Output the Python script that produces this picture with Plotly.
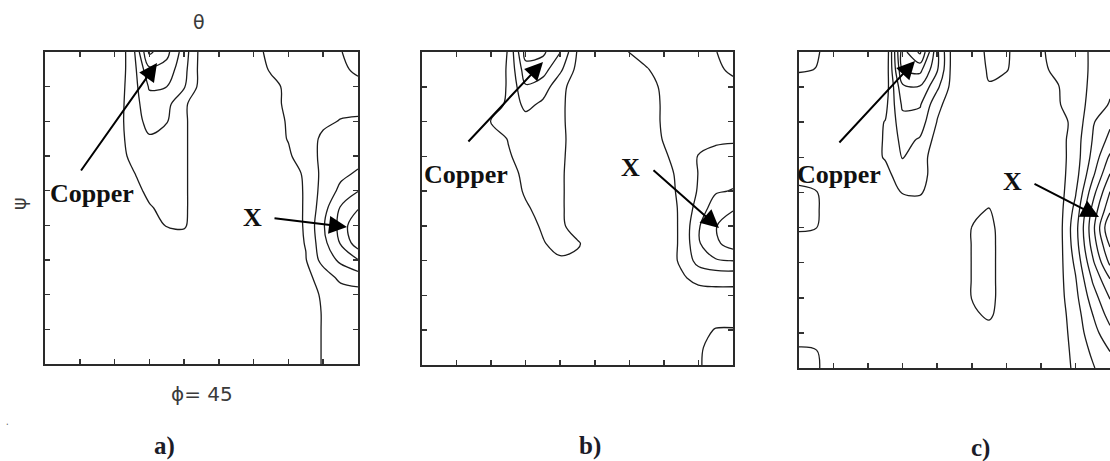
import plotly.graph_objects as go

# ODF section grid (degrees)
theta_deg = [0, 5, 10, 15, 20, 25, 30, 35, 40, 45, 50, 55, 60, 65, 70, 75, 80, 85, 90]
psi_deg = [0, 5, 10, 15, 20, 25, 30, 35, 40, 45, 50, 55, 60, 65, 70, 75, 80, 85, 90]

# contour levels
level_start = 1
level_end = 9
level_step = 1

# panel a) intensities, rows = psi, cols = theta
odf_a = [
    [0.5,0.5,0.5,0.45,0.3,1.4,5.2,4.3,2.5,0.6,0.5,0.55,0.75,1.2,1.3,1.5,1.7,1.95,2.5],
    [0.5,0.5,0.5,0.45,0.3,1.4,3.8,3.6,2.3,0.6,0.5,0.5,0.55,1.1,1.3,1.5,1.6,1.8,2.2],
    [0.5,0.5,0.5,0.45,0.35,1.45,3.1,3.0,2.1,0.6,0.5,0.5,0.5,0.75,1.2,1.4,1.5,1.6,1.7],
    [0.5,0.5,0.5,0.45,0.4,1.5,2.6,2.3,1.15,0.4,0.45,0.5,0.5,0.7,1.2,1.5,1.6,1.7,1.75],
    [0.5,0.5,0.5,0.45,0.45,1.5,2.3,2.05,1.15,0.4,0.45,0.5,0.5,0.6,1.1,1.4,1.8,2.05,2.1],
    [0.5,0.5,0.5,0.45,0.45,1.4,1.9,1.7,1.15,0.4,0.45,0.5,0.5,0.6,1.05,1.5,2.2,2.4,2.5],
    [0.5,0.5,0.5,0.45,0.5,1.2,1.6,1.5,1.15,0.4,0.45,0.5,0.5,0.55,0.85,1.6,2.2,2.5,2.7],
    [0.5,0.5,0.5,0.45,0.4,0.9,1.5,1.4,1.15,0.4,0.45,0.5,0.5,0.55,0.6,1.15,2.3,2.8,3.1],
    [0.5,0.5,0.5,0.45,0.4,0.6,1.25,1.35,1.15,0.4,0.45,0.5,0.5,0.55,0.55,1.1,2.4,3.2,3.95],
    [0.5,0.5,0.5,0.45,0.4,0.5,0.9,1.3,1.15,0.4,0.45,0.5,0.5,0.55,0.55,1.1,2.6,4.1,4.9],
    [0.5,0.5,0.5,0.45,0.4,0.5,0.6,1.05,1.1,0.4,0.45,0.5,0.5,0.55,0.55,1.1,2.9,4.3,6.0],
    [0.5,0.5,0.5,0.45,0.4,0.5,0.5,0.6,0.6,0.45,0.45,0.5,0.5,0.55,0.55,1.05,2.7,4.1,5.6],
    [0.5,0.5,0.5,0.45,0.45,0.5,0.5,0.5,0.5,0.45,0.45,0.5,0.5,0.55,0.6,0.95,2.4,3.2,3.95],
    [0.5,0.5,0.5,0.45,0.45,0.5,0.5,0.5,0.5,0.45,0.45,0.5,0.5,0.55,0.6,0.75,1.4,2.3,2.5],
    [0.5,0.5,0.5,0.45,0.45,0.5,0.5,0.5,0.5,0.45,0.45,0.5,0.5,0.55,0.6,0.7,1.1,1.4,1.6],
    [0.5,0.5,0.5,0.45,0.45,0.5,0.5,0.5,0.5,0.45,0.45,0.5,0.5,0.55,0.6,0.65,1.05,1.3,1.4],
    [0.5,0.5,0.5,0.45,0.45,0.5,0.5,0.5,0.5,0.45,0.45,0.5,0.5,0.55,0.6,0.65,1.05,1.3,1.4],
    [0.5,0.5,0.5,0.45,0.45,0.5,0.5,0.5,0.5,0.45,0.45,0.5,0.5,0.55,0.6,0.65,1.05,1.3,1.4],
    [0.5,0.5,0.5,0.45,0.45,0.5,0.5,0.5,0.5,0.45,0.45,0.5,0.5,0.55,0.6,0.65,1.05,1.3,1.4],
]

# panel b)
odf_b = [
    [0.5,0.5,0.5,0.45,0.4,1.05,4.4,4.2,3.05,0.9,0.55,0.6,1.02,1.3,1.4,1.5,1.7,1.97,2.4],
    [0.5,0.5,0.5,0.45,0.4,1.1,3.6,3.4,2.2,0.7,0.5,0.55,0.6,0.95,1.3,1.45,1.6,1.8,2.2],
    [0.5,0.5,0.5,0.45,0.4,1.1,2.9,2.5,1.3,0.5,0.5,0.5,0.55,0.7,1.15,1.35,1.45,1.55,1.7],
    [0.5,0.5,0.5,0.4,0.45,1.2,2.3,1.8,1.2,0.5,0.5,0.5,0.55,0.65,1.1,1.3,1.4,1.5,1.6],
    [0.5,0.5,0.5,0.4,1.02,1.3,1.6,1.5,1.2,0.5,0.5,0.5,0.55,0.65,1.1,1.3,1.5,1.6,1.75],
    [0.5,0.5,0.5,0.4,0.5,1.05,1.5,1.4,1.25,0.5,0.5,0.5,0.55,0.6,1.05,1.35,1.7,1.85,1.9],
    [0.5,0.5,0.5,0.4,0.45,0.9,1.4,1.35,1.2,0.5,0.5,0.5,0.55,0.6,0.9,1.3,2.05,2.25,2.3],
    [0.5,0.5,0.5,0.4,0.45,0.7,1.2,1.3,1.15,0.5,0.5,0.5,0.55,0.6,0.8,1.15,2.03,2.5,2.7],
    [0.5,0.5,0.5,0.4,0.45,0.6,1.1,1.3,1.15,0.5,0.5,0.5,0.55,0.6,0.7,1.15,2.1,2.9,3.05],
    [0.5,0.5,0.5,0.4,0.45,0.5,0.9,1.25,1.15,0.5,0.5,0.5,0.55,0.6,0.65,1.1,2.45,3.5,3.9],
    [0.5,0.5,0.5,0.4,0.45,0.5,0.7,1.1,1.2,0.55,0.5,0.5,0.55,0.6,0.62,1.1,2.9,3.95,4.6],
    [0.5,0.5,0.5,0.4,0.45,0.5,0.5,0.95,1.25,1.1,0.5,0.5,0.55,0.6,0.62,1.1,2.9,3.8,4.5],
    [0.5,0.5,0.5,0.4,0.45,0.5,0.5,0.6,0.9,0.8,0.5,0.5,0.55,0.6,0.65,1.1,2.4,2.9,3.02],
    [0.5,0.5,0.5,0.4,0.45,0.5,0.5,0.5,0.5,0.5,0.5,0.5,0.55,0.6,0.6,0.9,1.2,1.3,1.3],
    [0.5,0.5,0.5,0.4,0.45,0.5,0.5,0.5,0.5,0.5,0.5,0.5,0.55,0.6,0.6,0.65,0.7,0.7,0.7],
    [0.5,0.5,0.5,0.4,0.45,0.5,0.5,0.5,0.5,0.5,0.5,0.5,0.55,0.6,0.6,0.6,0.75,0.85,0.88],
    [0.5,0.5,0.5,0.4,0.45,0.5,0.5,0.5,0.5,0.5,0.5,0.5,0.55,0.6,0.6,0.55,0.9,1.02,1.02],
    [0.5,0.5,0.5,0.4,0.45,0.5,0.5,0.5,0.5,0.5,0.5,0.5,0.55,0.6,0.6,0.55,0.92,1.2,1.25],
    [0.5,0.5,0.5,0.4,0.45,0.5,0.5,0.5,0.5,0.5,0.5,0.5,0.55,0.6,0.6,0.55,0.95,1.2,1.25],
]

# panel c)
odf_c = [
    [1.3,1.1,0.6,0.5,0.3,0.0,5.6,7.2,3.2,0.3,0.5,1.2,1.1,0.6,0.9,1.3,1.6,2.15,2.3],
    [1.1,0.98,0.5,0.45,0.3,0.2,5.0,5.3,3.1,0.3,0.5,1.1,1.05,0.6,0.8,1.25,1.6,2.15,2.5],
    [0.5,0.5,0.5,0.45,0.3,0.4,3.8,3.9,2.2,0.4,0.5,0.95,0.7,0.55,0.6,0.95,1.6,2.2,2.8],
    [0.5,0.5,0.5,0.45,0.4,0.7,3.2,3.1,1.25,0.4,0.5,0.55,0.5,0.5,0.55,0.9,1.6,2.3,3.1],
    [0.5,0.5,0.5,0.45,0.5,1.05,2.6,2.5,0.95,0.4,0.5,0.5,0.5,0.5,0.55,0.6,1.3,2.9,3.8],
    [0.5,0.5,0.5,0.45,0.5,1.1,2.3,1.9,0.6,0.4,0.5,0.5,0.5,0.5,0.55,0.55,1.5,3.05,4.3],
    [0.5,0.5,0.5,0.45,0.5,1.1,2.05,1.4,0.5,0.4,0.5,0.5,0.5,0.5,0.55,0.55,1.5,3.3,5.2],
    [0.7,0.5,0.5,0.45,0.45,0.6,1.7,1.4,0.5,0.4,0.5,0.5,0.5,0.5,0.55,0.55,1.6,3.8,6.05],
    [1.2,1.05,0.5,0.45,0.45,0.5,1.05,1.1,0.5,0.4,0.5,0.6,0.5,0.5,0.5,0.5,1.9,4.6,7.05],
    [1.3,1.1,0.5,0.45,0.45,0.5,0.5,0.5,0.5,0.45,0.8,1.05,0.5,0.5,0.5,0.5,2.3,5.3,7.8],
    [1.15,1.02,0.5,0.45,0.45,0.5,0.5,0.5,0.5,0.45,1.01,1.25,0.5,0.5,0.5,0.5,2.6,5.67,9.0],
    [0.5,0.5,0.5,0.45,0.45,0.5,0.5,0.5,0.5,0.45,1.02,1.3,0.5,0.5,0.5,0.5,2.5,5.4,8.1],
    [0.5,0.5,0.5,0.45,0.45,0.5,0.5,0.5,0.5,0.45,1.02,1.3,0.5,0.5,0.5,0.55,2.2,4.8,7.2],
    [0.5,0.5,0.5,0.45,0.45,0.5,0.5,0.5,0.5,0.45,1.02,1.3,0.5,0.5,0.5,0.6,1.9,4.1,5.9],
    [0.5,0.5,0.5,0.45,0.45,0.5,0.5,0.5,0.5,0.45,1.02,1.3,0.5,0.5,0.5,0.6,1.7,3.5,5.05],
    [0.5,0.5,0.5,0.45,0.45,0.5,0.5,0.5,0.5,0.45,0.8,1.15,0.5,0.5,0.5,0.55,1.5,2.98,4.4],
    [0.6,0.5,0.5,0.45,0.45,0.5,0.5,0.5,0.5,0.45,0.5,0.6,0.5,0.5,0.5,0.5,1.4,2.6,3.7],
    [1.1,1.02,0.5,0.45,0.45,0.5,0.5,0.5,0.5,0.45,0.5,0.5,0.5,0.5,0.5,0.45,1.3,2.2,3.02],
    [1.2,1.1,0.6,0.45,0.45,0.5,0.5,0.5,0.5,0.45,0.5,0.5,0.5,0.5,0.5,0.45,1.2,1.9,2.7],
]

panel_letters = ["a)", "b)", "c)"]
peak_labels = ["Copper", "X"]
section_label = "\u03d5= 45"
top_axis_label = "\u03b8"
left_axis_label = "\u03c8"
tick_values = [10, 20, 30, 40, 50, 60, 70, 80]

W, H = 1110, 461

def px(x):
    return x / W

def py(y):
    return 1 - y / H

fig = go.Figure()

panels = [
    (odf_a, "x", "y"),
    (odf_b, "x2", "y2"),
    (odf_c, "x3", "y3"),
]
for z, xa, ya in panels:
    fig.add_trace(go.Contour(
        x=theta_deg, y=psi_deg, z=z,
        xaxis=xa, yaxis=ya,
        contours=dict(coloring="none", start=level_start, end=level_end, size=level_step),
        line=dict(color="#1c1c1c", width=1.3, smoothing=1.0),
        showscale=False, hoverinfo="skip",
    ))

frame = dict(showgrid=False, zeroline=False, showticklabels=False,
             ticks="inside", ticklen=5, tickwidth=1.5, tickcolor="#333",
             tickvals=tick_values, showline=True, linewidth=2,
             linecolor="#2a2a2a", fixedrange=True)

dom = {
    "a": ([45, 358], [52, 364]),
    "b": ([422, 733], [52, 365]),
    "c": ([799, 1110], [52, 368]),
}

def xd(p):
    return [px(dom[p][0][0]), min(1.0, px(dom[p][0][1]))]

def yd(p):
    return [py(dom[p][1][1]), py(dom[p][1][0])]

fig.update_layout(
    xaxis=dict(frame, domain=xd("a"), range=[0, 90], mirror="ticks", anchor="y"),
    yaxis=dict(frame, domain=yd("a"), range=[90, 0], mirror="ticks", anchor="x"),
    xaxis2=dict(frame, domain=xd("b"), range=[0, 90], mirror="ticks", anchor="y2"),
    yaxis2=dict(frame, domain=yd("b"), range=[90, 0], mirror="ticks", anchor="x2"),
    xaxis3=dict(frame, domain=xd("c"), range=[0, 90], mirror="ticks", anchor="y3"),
    yaxis3=dict(frame, domain=yd("c"), range=[90, 0], mirror=False, anchor="x3"),
)

ann = []
sans = dict(family="DejaVu Sans", size=19, color="#3a3a3a")
serif_b = dict(family="Liberation Serif", size=26, color="#111")
ann.append(dict(x=px(199), y=py(22), text=top_axis_label, font=sans))
ann.append(dict(x=px(19), y=py(204), text=left_axis_label, font=sans, textangle=-90))
ann.append(dict(x=px(202), y=py(394), text=section_label,
                font=dict(family="DejaVu Sans", size=20, color="#3a3a3a")))
ann.append(dict(x=px(7), y=py(421), text=".", font=dict(size=10, color="#666")))

for letter, (lx, ly) in zip(panel_letters, [(164, 446), (590, 446), (980, 448)]):
    ann.append(dict(x=px(lx), y=py(ly), text="<b>" + letter + "</b>",
                    font=dict(family="Liberation Serif", size=25, color="#1c1c28")))

copper_pos = [(92, 193), (466, 175), (839, 175)]
x_pos = [(252, 217), (630, 168), (1012, 181)]
for (cx, cy) in copper_pos:
    ann.append(dict(x=px(cx), y=py(cy), text="<b>" + peak_labels[0] + "</b>", font=serif_b))
for (cx, cy) in x_pos:
    ann.append(dict(x=px(cx), y=py(cy), text="<b>" + peak_labels[1] + "</b>", font=serif_b))

# arrows: (tail, tip)
arrows = [
    ((80, 172), (157, 63)),
    ((273, 218), (347, 227)),
    ((467, 143), (543, 62)),
    ((652, 169), (719, 228)),
    ((838, 144), (915, 61)),
    ((1033, 183), (1099, 217)),
]
for (tx, ty), (hx, hy) in arrows:
    ann.append(dict(x=px(hx), y=py(hy), ax=tx - hx, ay=ty - hy, text="",
                    showarrow=True, arrowhead=2, arrowsize=1.8, arrowwidth=2,
                    arrowcolor="#000", standoff=0))

for a in ann:
    a.setdefault("xref", "paper")
    a.setdefault("yref", "paper")
    a.setdefault("showarrow", False)
    a.setdefault("xanchor", "center")
    a.setdefault("yanchor", "middle")

fig.update_layout(
    annotations=ann,
    width=W, height=H, autosize=False,
    margin=dict(l=0, r=0, t=0, b=0),
    paper_bgcolor="white", plot_bgcolor="white",
    showlegend=False,
)

fig.write_html("out.html", config={"displayModeBar": False, "staticPlot": True},
               post_script="document.body.style.margin='0';document.body.style.overflow='hidden';")
